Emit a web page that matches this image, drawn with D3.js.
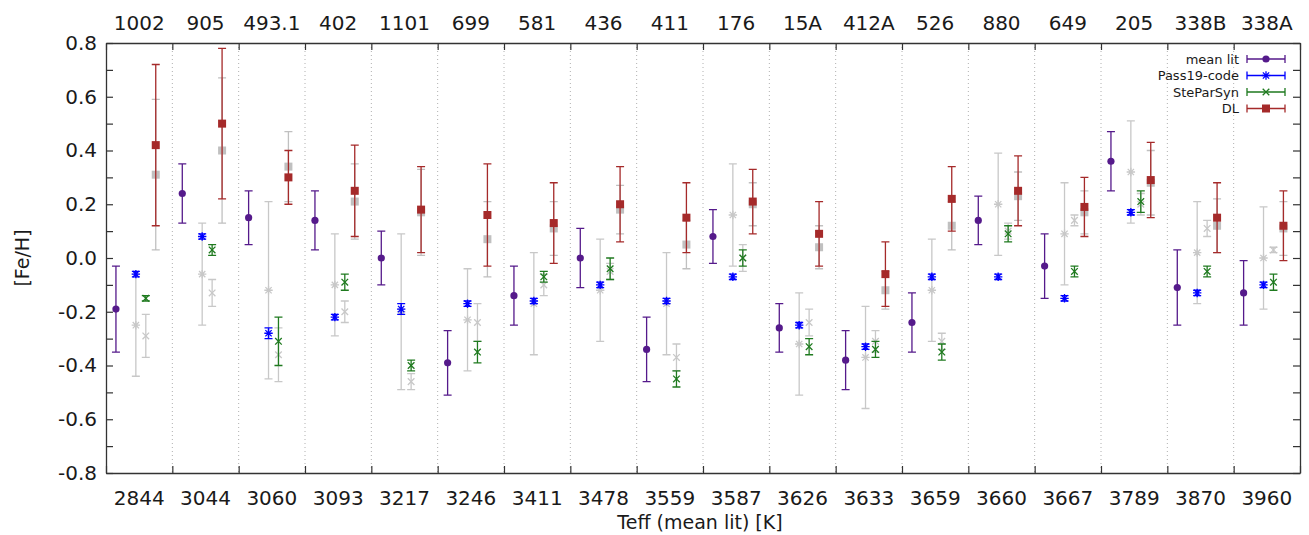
<!DOCTYPE html>
<html>
<head>
<meta charset="utf-8">
<script src="https://cdn.jsdelivr.net/npm/d3@7"></script>
<style>
  body { margin: 0; background: #fff; }
  text { font-family: "DejaVu Sans", sans-serif; fill: #1a1a1a; }
</style>
</head>
<body>
<div class="chart"></div>
<script>
// star ids (top axis) and Teff (bottom axis)
var stars = ["1002", "905", "493.1", "402", "1101", "699", "581", "436", "411", "176", "15A", "412A", "526", "880", "649", "205", "338B", "338A"];
var teff = ["2844", "3044", "3060", "3093", "3217", "3246", "3411", "3478", "3559", "3587", "3626", "3633", "3659", "3660", "3667", "3789", "3870", "3960"];

// coloured series
var meanLit    = [-0.19, 0.24, 0.15, 0.14, 0.00, -0.39, -0.14, 0.00, -0.34, 0.08, -0.26, -0.38, -0.24, 0.14, -0.03, 0.36, -0.11, -0.13];
var meanLitErr = [0.16, 0.11, 0.10, 0.11, 0.10, 0.12, 0.11, 0.11, 0.12, 0.10, 0.09, 0.11, 0.11, 0.09, 0.12, 0.11, 0.14, 0.12];

var pass19    = [-0.06, 0.08, -0.28, -0.22, -0.19, -0.17, -0.16, -0.10, -0.16, -0.07, -0.25, -0.33, -0.07, -0.07, -0.15, 0.17, -0.13, -0.10];
var pass19Err = [0.01, 0.01, 0.02, 0.01, 0.02, 0.01, 0.01, 0.01, 0.01, 0.01, 0.01, 0.01, 0.01, 0.01, 0.01, 0.01, 0.01, 0.01];

var steParSyn    = [-0.15, 0.03, -0.31, -0.09, -0.40, -0.35, -0.07, -0.04, -0.45, 0.00, -0.33, -0.34, -0.35, 0.09, -0.05, 0.21, -0.05, -0.09];
var steParSynErr = [0.01, 0.02, 0.09, 0.03, 0.02, 0.04, 0.02, 0.04, 0.03, 0.03, 0.03, 0.03, 0.03, 0.03, 0.02, 0.04, 0.02, 0.03];

var dl    = [0.42, 0.50, 0.30, 0.25, 0.18, 0.16, 0.13, 0.20, 0.15, 0.21, 0.09, -0.06, 0.22, 0.25, 0.19, 0.29, 0.15, 0.12];
var dlErr = [0.30, 0.28, 0.10, 0.17, 0.16, 0.19, 0.15, 0.14, 0.13, 0.12, 0.12, 0.12, 0.12, 0.13, 0.11, 0.14, 0.13, 0.13];

// grey (second run) series
var pass19Gray    = [-0.25, -0.06, -0.12, -0.10, -0.20, -0.23, -0.17, -0.12, -0.17, 0.16, -0.32, -0.37, -0.12, 0.20, 0.09, 0.32, 0.02, 0.00];
var pass19GrayErr = [0.19, 0.19, 0.33, 0.19, 0.29, 0.19, 0.19, 0.19, 0.19, 0.19, 0.19, 0.19, 0.19, 0.19, 0.19, 0.19, 0.19, 0.19];

var steParSynGray    = [-0.29, -0.13, -0.36, -0.20, -0.46, -0.24, -0.10, -0.05, -0.37, 0.00, -0.24, -0.31, -0.31, 0.10, 0.14, 0.20, 0.11, 0.03];
var steParSynGrayErr = [0.08, 0.05, 0.10, 0.04, 0.03, 0.07, 0.04, 0.03, 0.05, 0.05, 0.05, 0.04, 0.03, 0.03, 0.02, 0.04, 0.03, 0.01];

var dlGray    = [0.31, 0.40, 0.34, 0.21, 0.17, 0.07, 0.11, 0.18, 0.05, 0.20, 0.04, -0.12, 0.12, 0.23, 0.17, 0.28, 0.12, 0.11];
var dlGrayErr = [0.28, 0.27, 0.13, 0.14, 0.16, 0.14, 0.10, 0.09, 0.09, 0.08, 0.08, 0.07, 0.09, 0.09, 0.08, 0.12, 0.10, 0.10];

var yTicks = [-0.8, -0.7, -0.6, -0.5, -0.4, -0.3, -0.2, -0.1, 0, 0.1, 0.2, 0.3, 0.4, 0.5, 0.6, 0.7, 0.8];

var svgWidth = 1309, svgHeight = 535;
var margin = { top: 43, right: 9, bottom: 62, left: 106 };
var width = svgWidth - margin.left - margin.right;
var height = svgHeight - margin.top - margin.bottom;

var svg = d3.select(".chart").append("svg")
  .attr("width", svgWidth)
  .attr("height", svgHeight);

svg.append("rect").attr("width", svgWidth).attr("height", svgHeight).attr("fill", "#fff");

var chartGroup = svg.append("g")
  .attr("transform", `translate(${margin.left}, ${margin.top})`);

var n = stars.length;
var xScale = d3.scaleLinear().domain([-0.5, n - 0.5]).range([0, width]);
var yScale = d3.scaleLinear().domain([-0.8, 0.8]).range([height, 0]);

var borders = d3.range(n + 1).map(i => i - 0.5);

// dotted separators between stars
chartGroup.selectAll(".sep")
  .data(borders.slice(1, n))
  .enter().append("line")
  .attr("x1", d => xScale(d)).attr("x2", d => xScale(d))
  .attr("y1", 0).attr("y2", height)
  .attr("stroke", "#b0b0b0")
  .attr("stroke-width", 1)
  .attr("stroke-dasharray", "1,3");

// axes (ticks inward, gnuplot style), plain hyphen for negatives
var yAxisL = d3.axisLeft(yScale).tickValues(yTicks).tickSizeInner(-7).tickSizeOuter(0)
  .tickFormat(d => Math.round(d * 10) % 2 === 0 ? d3.format(".1f")(d).replace("\u2212", "-") : "");
var yAxisR = d3.axisRight(yScale).tickValues(yTicks).tickSizeInner(-7).tickSizeOuter(0).tickFormat("");
var xAxisB = d3.axisBottom(xScale).tickValues(borders).tickSizeInner(-7).tickSizeOuter(0).tickFormat("");
var xAxisT = d3.axisTop(xScale).tickValues(borders).tickSizeInner(-7).tickSizeOuter(0).tickFormat("");

var gL = chartGroup.append("g").call(yAxisL);
var gR = chartGroup.append("g").attr("transform", `translate(${width},0)`).call(yAxisR);
var gB = chartGroup.append("g").attr("transform", `translate(0,${height})`).call(xAxisB);
var gT = chartGroup.append("g").call(xAxisT);

[gL, gR, gB, gT].forEach(function(g) {
  g.selectAll("path").attr("stroke", "#333").attr("stroke-width", 1.3);
  g.selectAll("line").attr("stroke", "#333").attr("stroke-width", 1.2);
});
gL.selectAll("text").attr("x", -9).attr("font-size", "20px").attr("fill", "#1a1a1a");

// category labels at star centres
chartGroup.selectAll(".teff")
  .data(teff).enter().append("text")
  .attr("x", (d, i) => xScale(i))
  .attr("y", height + 32)
  .attr("text-anchor", "middle")
  .attr("font-size", "20px")
  .text(d => d);

chartGroup.selectAll(".star")
  .data(stars).enter().append("text")
  .attr("x", (d, i) => xScale(i))
  .attr("y", -13)
  .attr("text-anchor", "middle")
  .attr("font-size", "20px")
  .text(d => d);

// axis titles
svg.append("text")
  .attr("transform", `translate(29, ${margin.top + height / 2}) rotate(-90)`)
  .attr("text-anchor", "middle")
  .attr("font-size", "19px")
  .text("[Fe/H]");

svg.append("text")
  .attr("x", margin.left + width / 2 - 3)
  .attr("y", 529)
  .attr("text-anchor", "middle")
  .attr("font-size", "19px")
  .text("Teff (mean lit) [K]");

// marker drawing
function drawMarker(g, kind, x, y, color) {
  if (kind === "circle") {
    g.append("circle").attr("cx", x).attr("cy", y).attr("r", 3.6).attr("fill", color);
  } else if (kind === "square") {
    g.append("rect").attr("x", x - 4).attr("y", y - 4).attr("width", 8).attr("height", 8).attr("fill", color);
  } else if (kind === "star") {
    var s = 4.2;
    var p = `M${x - s},${y}H${x + s}M${x},${y - s}V${y + s}` +
            `M${x - s * 0.75},${y - s * 0.75}L${x + s * 0.75},${y + s * 0.75}` +
            `M${x - s * 0.75},${y + s * 0.75}L${x + s * 0.75},${y - s * 0.75}`;
    g.append("path").attr("d", p).attr("stroke", color).attr("stroke-width", 1.3).attr("fill", "none");
  } else if (kind === "cross") {
    var c = 3.3;
    g.append("path")
      .attr("d", `M${x - c},${y - c}L${x + c},${y + c}M${x - c},${y + c}L${x + c},${y - c}`)
      .attr("stroke", color).attr("stroke-width", 1.3).attr("fill", "none");
  }
}

function drawSeries(values, errs, offset, color, kind, opacity) {
  var g = chartGroup.append("g").attr("opacity", opacity);
  values.forEach(function(v, i) {
    var x = xScale(i + offset);
    var y0 = yScale(v - errs[i]), y1 = yScale(v + errs[i]);
    g.append("path")
      .attr("d", `M${x},${y0}V${y1}M${x - 4},${y0}H${x + 4}M${x - 4},${y1}H${x + 4}`)
      .attr("stroke", color).attr("stroke-width", 1.3).attr("fill", "none");
    drawMarker(g, kind, x, yScale(v), color);
  });
}

var offMean = -0.35, offPass = -0.05, offStep = 0.10, offDL = 0.25;

// grey runs underneath
drawSeries(pass19Gray, pass19GrayErr, offPass, "#c8c8c8", "star", 1);
drawSeries(steParSynGray, steParSynGrayErr, offStep, "#c8c8c8", "cross", 1);
drawSeries(dlGray, dlGrayErr, offDL, "#c0c0c0", "square", 1);

drawSeries(meanLit, meanLitErr, offMean, "#551a8b", "circle", 1);
drawSeries(pass19, pass19Err, offPass, "#0000ff", "star", 1);
drawSeries(steParSyn, steParSynErr, offStep, "#1f7a1f", "cross", 1);
drawSeries(dl, dlErr, offDL, "#a52a2a", "square", 1);

// legend
var legendItems = [
  { label: "mean lit", color: "#551a8b", kind: "circle" },
  { label: "Pass19-code", color: "#0000ff", kind: "star" },
  { label: "SteParSyn", color: "#1f7a1f", kind: "cross" },
  { label: "DL", color: "#a52a2a", kind: "square" }
];
var legend = svg.append("g");
legendItems.forEach(function(d, i) {
  var y = 59 + i * 16.5;
  legend.append("text")
    .attr("x", 1239).attr("y", y + 4.5)
    .attr("text-anchor", "end")
    .attr("font-size", "13px")
    .text(d.label);
  legend.append("path")
    .attr("d", `M1247,${y}H1285M1247,${y - 4}V${y + 4}M1285,${y - 4}V${y + 4}`)
    .attr("stroke", d.color).attr("stroke-width", 1.3).attr("fill", "none");
  drawMarker(legend, d.kind, 1266, y, d.color);
});
</script>
</body>
</html>
